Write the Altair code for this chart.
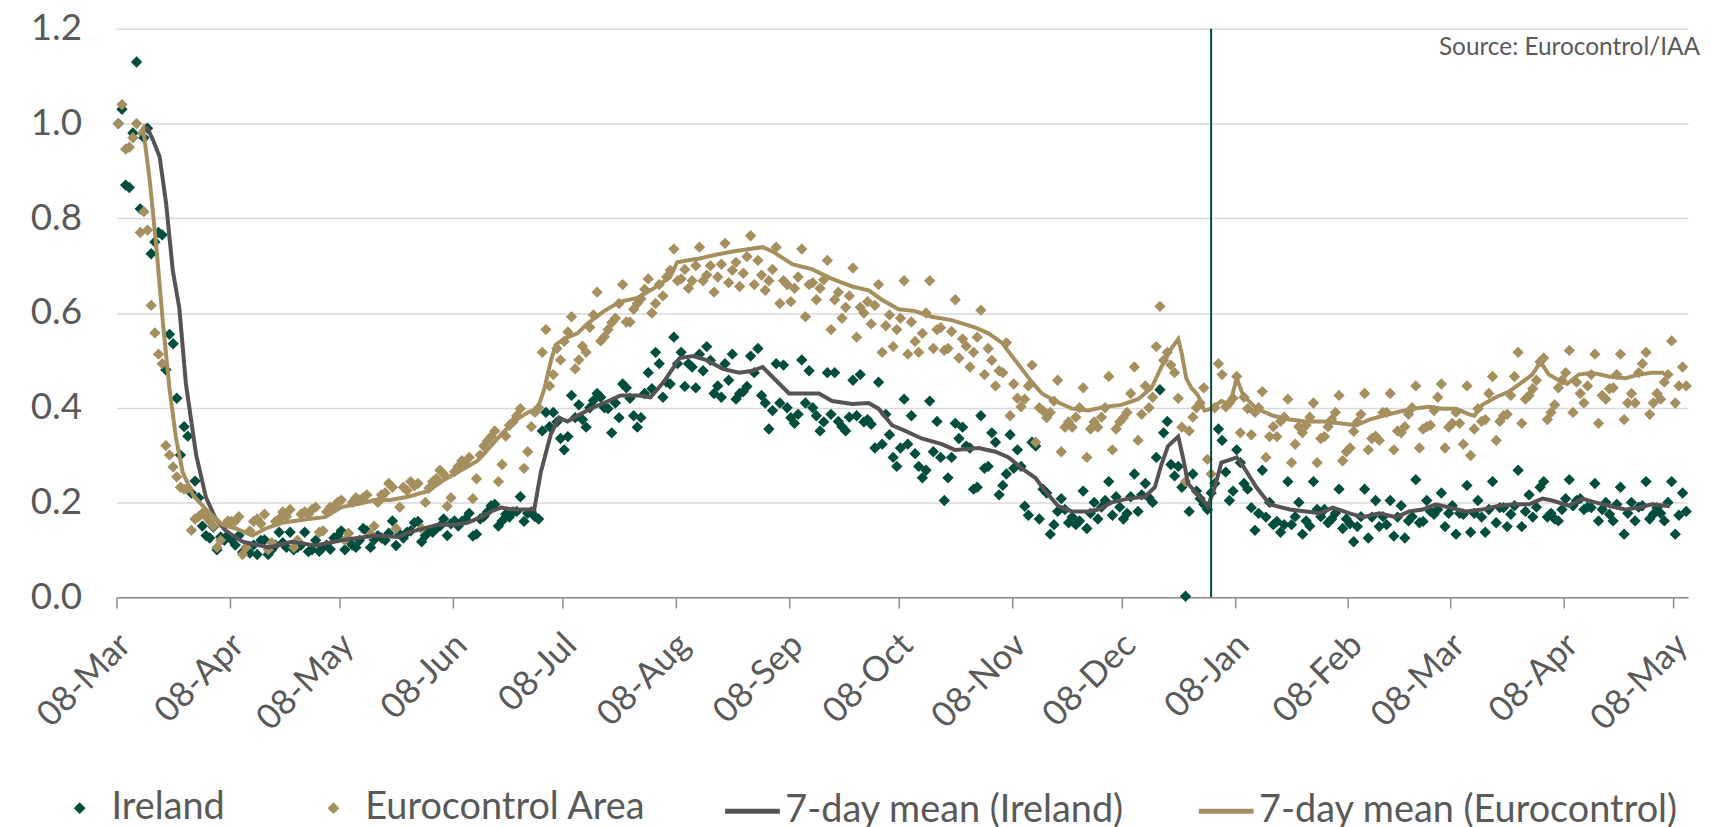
import altair as alt
import pandas as pd

# ---------------- data ----------------
START = "2020-03-08"
END = "2021-05-12"

# daily values, one row per week (Sun..Sat), from 08-Mar-2020
ireland = [
    1.00, 1.03, 0.87, 0.865, 0.98, 1.13, 0.82,
    0.97, 0.99, 0.725, 0.75, 0.77, 0.765, 0.48,
    0.555, 0.535, 0.42, 0.30, 0.36, 0.34, 0.22,
    0.245, 0.21, 0.15, 0.13, 0.125, 0.148, 0.10,
    0.127, 0.12, 0.131, 0.121, 0.11, 0.13, 0.095,
    0.105, 0.093, 0.11, 0.09, 0.12, 0.121, 0.09,
    0.10, 0.11, 0.137, 0.115, 0.105, 0.137, 0.10,
    0.105, 0.11, 0.137, 0.096, 0.10, 0.12, 0.097,
    0.105, 0.11, 0.101, 0.125, 0.129, 0.14, 0.10,
    0.121, 0.11, 0.105, 0.12, 0.145, 0.14, 0.105,
    0.121, 0.13, 0.125, 0.12, 0.135, 0.161, 0.109,
    0.133, 0.125, 0.137, 0.14, 0.157, 0.16, 0.117,
    0.13, 0.14, 0.137, 0.145, 0.15, 0.165, 0.13,
    0.155, 0.161, 0.15, 0.16, 0.165, 0.177, 0.129,
    0.133, 0.165, 0.17, 0.18, 0.193, 0.196, 0.15,
    0.161, 0.175, 0.169, 0.18, 0.181, 0.212, 0.16,
    0.177, 0.18, 0.17, 0.165, 0.351, 0.39, 0.36,
    0.39, 0.37, 0.335, 0.311, 0.339, 0.426, 0.379,
    0.406, 0.375, 0.359, 0.40, 0.415, 0.43, 0.422,
    0.40, 0.398, 0.347, 0.41, 0.379, 0.45, 0.442,
    0.42, 0.383, 0.359, 0.379, 0.43, 0.474, 0.44,
    0.517, 0.493, 0.422, 0.454, 0.45, 0.549, 0.493,
    0.517, 0.445, 0.493, 0.486, 0.442, 0.513, 0.478,
    0.529, 0.50, 0.43, 0.446, 0.422, 0.493, 0.458,
    0.513, 0.418, 0.43, 0.434, 0.445, 0.509, 0.474,
    0.525, 0.426, 0.41, 0.355, 0.394, 0.493, 0.41,
    0.49, 0.40, 0.379, 0.367, 0.386, 0.501, 0.41,
    0.478, 0.40, 0.383, 0.351, 0.37, 0.474, 0.386,
    0.474, 0.371, 0.36, 0.351, 0.38, 0.458, 0.383,
    0.47, 0.37, 0.375, 0.365, 0.315, 0.454, 0.323,
    0.386, 0.343, 0.295, 0.276, 0.315, 0.418, 0.323,
    0.383, 0.303, 0.276, 0.252, 0.268, 0.414, 0.307,
    0.371, 0.295, 0.204, 0.252, 0.295, 0.367, 0.335,
    0.359, 0.319, 0.315, 0.228, 0.232, 0.383, 0.272,
    0.276, 0.347, 0.327, 0.216, 0.236, 0.26, 0.343,
    0.272, 0.311, 0.276, 0.192, 0.173, 0.327, 0.319,
    0.165, 0.228, 0.22, 0.133, 0.153, 0.181, 0.208,
    0.185, 0.157, 0.169, 0.153, 0.161, 0.224, 0.145,
    0.177, 0.20, 0.165, 0.19, 0.204, 0.244, 0.173,
    0.212, 0.19, 0.165, 0.177, 0.212, 0.26, 0.181,
    0.216, 0.24, 0.21, 0.20, 0.295, 0.438, 0.347,
    0.371, 0.28, 0.256, 0.276, 0.232, 0.002, 0.181,
    0.26, 0.224, 0.208, 0.196, 0.185, 0.22, 0.24,
    0.355, 0.331, 0.264, 0.204, 0.224, 0.311, 0.284,
    0.24, 0.228, 0.189, 0.141, 0.177, 0.268, 0.169,
    0.20, 0.153, 0.16, 0.137, 0.153, 0.244, 0.153,
    0.17, 0.20, 0.133, 0.161, 0.15, 0.244, 0.185,
    0.17, 0.185, 0.157, 0.165, 0.177, 0.228, 0.145,
    0.165, 0.155, 0.117, 0.149, 0.17, 0.228, 0.125,
    0.169, 0.204, 0.149, 0.17, 0.153, 0.204, 0.129,
    0.169, 0.193, 0.125, 0.161, 0.17, 0.248, 0.157,
    0.16, 0.204, 0.181, 0.175, 0.185, 0.22, 0.149,
    0.177, 0.193, 0.133, 0.177, 0.175, 0.236, 0.137,
    0.177, 0.204, 0.169, 0.137, 0.185, 0.244, 0.157,
    0.189, 0.189, 0.149, 0.175, 0.193, 0.268, 0.149,
    0.181, 0.216, 0.169, 0.19, 0.232, 0.244, 0.169,
    0.177, 0.165, 0.161, 0.185, 0.208, 0.248, 0.193,
    0.204, 0.208, 0.185, 0.19, 0.189, 0.24, 0.161,
    0.185, 0.20, 0.175, 0.161, 0.196, 0.232, 0.133,
    0.177, 0.20, 0.161, 0.19, 0.193, 0.244, 0.165,
    0.175, 0.189, 0.177, 0.161, 0.20, 0.244, 0.133,
    0.173, 0.22, 0.181,
]

eurocontrol = [
    1.00, 1.04, 0.946, 0.95, 0.97, 1.00, 0.77,
    0.814, 0.775, 0.616, 0.558, 0.513, 0.493, 0.32,
    0.30, 0.275, 0.254, 0.232, 0.228, 0.23, 0.141,
    0.165, 0.17, 0.177, 0.17, 0.161, 0.15, 0.105,
    0.12, 0.15, 0.161, 0.16, 0.161, 0.17, 0.09,
    0.105, 0.14, 0.16, 0.165, 0.155, 0.175, 0.10,
    0.115, 0.16, 0.165, 0.18, 0.17, 0.185, 0.105,
    0.12, 0.175, 0.18, 0.175, 0.185, 0.19, 0.137,
    0.14, 0.18, 0.19, 0.19, 0.20, 0.205, 0.12,
    0.135, 0.20, 0.21, 0.205, 0.21, 0.216, 0.133,
    0.15, 0.20, 0.216, 0.22, 0.24, 0.232, 0.145,
    0.19, 0.232, 0.225, 0.244, 0.235, 0.24, 0.145,
    0.20, 0.23, 0.244, 0.25, 0.268, 0.26, 0.192,
    0.21, 0.265, 0.276, 0.288, 0.28, 0.295, 0.208,
    0.25, 0.30, 0.319, 0.33, 0.339, 0.351, 0.244,
    0.28, 0.34, 0.363, 0.37, 0.383, 0.398, 0.272,
    0.307, 0.36, 0.39, 0.40, 0.517, 0.565, 0.446,
    0.47, 0.525, 0.501, 0.54, 0.56, 0.592, 0.482,
    0.501, 0.53, 0.517, 0.57, 0.596, 0.644, 0.541,
    0.55, 0.565, 0.58, 0.589, 0.62, 0.66, 0.581,
    0.581, 0.608, 0.62, 0.63, 0.65, 0.672, 0.60,
    0.62, 0.66, 0.636, 0.676, 0.69, 0.735, 0.668,
    0.672, 0.692, 0.652, 0.668, 0.70, 0.739, 0.668,
    0.68, 0.70, 0.644, 0.676, 0.703, 0.747, 0.664,
    0.69, 0.707, 0.656, 0.684, 0.719, 0.763, 0.66,
    0.711, 0.68, 0.648, 0.668, 0.692, 0.739, 0.62,
    0.668, 0.66, 0.624, 0.652, 0.676, 0.735, 0.592,
    0.66, 0.664, 0.628, 0.652, 0.67, 0.711, 0.565,
    0.628, 0.644, 0.589, 0.612, 0.636, 0.695, 0.549,
    0.612, 0.60, 0.624, 0.577, 0.616, 0.66, 0.517,
    0.573, 0.596, 0.529, 0.565, 0.589, 0.668, 0.513,
    0.581, 0.54, 0.517, 0.557, 0.60, 0.668, 0.525,
    0.565, 0.569, 0.521, 0.525, 0.561, 0.628, 0.505,
    0.545, 0.53, 0.486, 0.517, 0.549, 0.606, 0.47,
    0.525, 0.50, 0.446, 0.478, 0.474, 0.537, 0.383,
    0.45, 0.42, 0.402, 0.418, 0.446, 0.49, 0.327,
    0.40, 0.394, 0.379, 0.39, 0.414, 0.458, 0.307,
    0.359, 0.37, 0.359, 0.38, 0.40, 0.442, 0.295,
    0.355, 0.37, 0.359, 0.38, 0.40, 0.466, 0.311,
    0.355, 0.37, 0.379, 0.39, 0.43, 0.486, 0.331,
    0.386, 0.446, 0.40, 0.422, 0.529, 0.614, 0.50,
    0.517, 0.49, 0.474, 0.42, 0.359, 0.244, 0.351,
    0.38, 0.40, 0.41, 0.442, 0.291, 0.26, 0.40,
    0.493, 0.47, 0.402, 0.41, 0.42, 0.466, 0.347,
    0.422, 0.398, 0.343, 0.39, 0.40, 0.434, 0.295,
    0.339, 0.36, 0.339, 0.371, 0.38, 0.418, 0.284,
    0.323, 0.36, 0.347, 0.363, 0.38, 0.41, 0.284,
    0.335, 0.339, 0.36, 0.375, 0.39, 0.426, 0.288,
    0.307, 0.315, 0.35, 0.37, 0.386, 0.43, 0.311,
    0.335, 0.34, 0.331, 0.39, 0.39, 0.43, 0.311,
    0.351, 0.347, 0.36, 0.386, 0.40, 0.446, 0.315,
    0.355, 0.36, 0.363, 0.394, 0.422, 0.45, 0.315,
    0.359, 0.367, 0.39, 0.367, 0.323, 0.446, 0.299,
    0.355, 0.398, 0.371, 0.375, 0.43, 0.466, 0.331,
    0.371, 0.383, 0.386, 0.426, 0.466, 0.517, 0.367,
    0.418, 0.426, 0.44, 0.458, 0.497, 0.505, 0.375,
    0.39, 0.406, 0.442, 0.458, 0.474, 0.521, 0.39,
    0.454, 0.43, 0.41, 0.446, 0.47, 0.513, 0.367,
    0.426, 0.418, 0.44, 0.442, 0.47, 0.513, 0.375,
    0.41, 0.43, 0.41, 0.474, 0.493, 0.517, 0.386,
    0.41, 0.43, 0.418, 0.454, 0.47, 0.541, 0.41,
    0.446, 0.486, 0.446,
]

# 7-day means, read as (days after 08-Mar-2020, value) knots
ire_ma_day = [7, 8.5, 10, 11.8, 13.6, 15.4, 17.2, 19, 21.8, 24.5, 27.2, 29.9, 34.5, 41.7, 48,
              54.4, 61.6, 70.7, 77, 80, 88, 92.5, 96, 99.7, 102.5, 105.2, 108.8, 114.3, 116.1,
              118.8, 121.1, 123.4, 126.1, 129.7, 133.4, 137.9, 142.5, 146.1, 149.7, 152.5, 154.1,
              157.7, 161.3, 165.9, 170.4, 174, 176.8, 180.4, 184, 192.2, 195.8, 201.3, 205.8,
              208.5, 212.2, 215.8, 220.3, 225.8, 229.4, 235.9, 240.5, 244.1, 247.7, 251.4, 254.1,
              257.7, 261.4, 265.9, 268.6, 272.3, 276.8, 281.4, 284.1, 285.9, 287.7, 290.5, 291.8,
              293.2, 295.9, 298.6, 300.5, 302.3, 305, 306.5, 308.3, 311.9, 315.5, 321, 325.5,
              329.2, 332.8, 337.4, 341, 345.5, 350.1, 353.7, 357.4, 361, 365.5, 369.1, 373.7,
              378.3, 382.8, 386.5, 390.1, 392.8, 397.5, 401, 404.6, 408.3, 412.8, 416.5, 420.1, 425]
ire_ma = [0.99, 0.99, 0.965, 0.93, 0.83, 0.69, 0.61, 0.45, 0.30, 0.21, 0.165, 0.14, 0.117, 0.105, 0.117,
          0.109, 0.12, 0.13, 0.127, 0.137, 0.153, 0.153, 0.157, 0.169, 0.181, 0.189, 0.185, 0.185, 0.264,
          0.343, 0.379, 0.371, 0.383, 0.398, 0.41, 0.426, 0.426, 0.422, 0.454, 0.486, 0.505,
          0.509, 0.501, 0.482, 0.474, 0.478, 0.486, 0.458, 0.43, 0.43, 0.414, 0.408, 0.41,
          0.398, 0.363, 0.351, 0.335, 0.323, 0.311, 0.315, 0.307, 0.295, 0.272, 0.252, 0.224,
          0.192, 0.181, 0.181, 0.185, 0.20, 0.208, 0.212, 0.232, 0.28, 0.319, 0.339, 0.295,
          0.24, 0.216, 0.192, 0.232, 0.284, 0.291, 0.295, 0.276, 0.232, 0.196, 0.185, 0.181,
          0.177, 0.189, 0.177, 0.169, 0.177, 0.169, 0.181, 0.185, 0.196, 0.188, 0.181, 0.185,
          0.193, 0.196, 0.196, 0.208, 0.204, 0.193, 0.208, 0.20, 0.193, 0.185, 0.189, 0.196, 0.192]

eu_ma_day = [6, 7.3, 9.1, 10.9, 12.7, 14.5, 16.3, 18.1, 20.9, 24.5, 29, 32.6, 37.2, 40.8, 45.3, 52.6,
             57.1, 61.6, 67, 70.7, 75, 79.7, 85.2, 89.7, 94.3, 98.8, 101.5, 105.2, 108.8, 112.5,
             115.2, 117, 118.9, 120.2, 122.5, 126.1, 128.8, 133.4, 137.9, 142.5, 147, 151.5, 153.4,
             156, 159.5, 164, 168.6, 173.1, 176.8, 179.5, 184.9, 190.4, 195.8, 201.3, 205.8, 209.4,
             214, 218.5, 223, 228.5, 235, 238.6, 242.3, 245, 247.7, 250.5, 253.2, 256.8, 261.4,
             265.9, 270.5, 275, 279.5, 283.2, 285.9, 288.6, 290.5, 291.4, 292.7, 294.1, 295.9,
             297.7, 299.5, 302.3, 304.6, 306.5, 308.3, 311.9, 316.5, 321, 325.5, 330.1, 334.6,
             339.2, 342.8, 346.5, 350.1, 354.6, 359.2, 362.8, 366.5, 370.1, 371.5, 373.7, 377.4,
             381, 384.6, 387.4, 389.6, 391.9, 394.6, 396.9, 400.1, 403.7, 408.3, 412.8, 416.5,
             420.1, 423.5]
eu_ma = [0.975, 0.99, 0.88, 0.74, 0.58, 0.44, 0.335, 0.264, 0.216, 0.185, 0.153, 0.145, 0.13, 0.145, 0.157, 0.165,
         0.169, 0.19, 0.198, 0.205, 0.205, 0.212, 0.224, 0.248, 0.268, 0.288, 0.311, 0.343, 0.371, 0.39,
         0.398, 0.438, 0.50, 0.533, 0.545, 0.557, 0.577, 0.604, 0.624, 0.632, 0.652, 0.676, 0.707,
         0.711, 0.715, 0.723, 0.73, 0.735, 0.739, 0.73, 0.703, 0.692, 0.672, 0.656, 0.648, 0.628,
         0.608, 0.604, 0.592, 0.585, 0.569, 0.557, 0.537, 0.509, 0.482, 0.454, 0.43, 0.414, 0.398,
         0.394, 0.402, 0.406, 0.418, 0.442, 0.486, 0.525, 0.545, 0.517, 0.462, 0.442, 0.426,
         0.394, 0.398, 0.414, 0.406, 0.462, 0.426, 0.398, 0.383, 0.375, 0.371, 0.371, 0.367,
         0.363, 0.375, 0.383, 0.39, 0.398, 0.402, 0.398, 0.398, 0.386, 0.383, 0.406, 0.422,
         0.434, 0.454, 0.47, 0.497, 0.47, 0.458, 0.45, 0.47, 0.474, 0.466, 0.462, 0.47,
         0.474, 0.474]

tick_dates = ["2020-03-08", "2020-04-08", "2020-05-08", "2020-06-08", "2020-07-08", "2020-08-08",
              "2020-09-08", "2020-10-08", "2020-11-08", "2020-12-08", "2021-01-08", "2021-02-08",
              "2021-03-08", "2021-04-08", "2021-05-08"]
y_ticks = [0.0, 0.2, 0.4, 0.6, 0.8, 1.0, 1.2]
year_marker = ["2021-01-01T12:00:00"]
source_note = ["Source: Eurocontrol/IAA"]
point_series = ["Ireland", "Eurocontrol Area"]
line_series = ["7-day mean (Ireland)", "7-day mean (Eurocontrol)"]

# ---------------- styling ----------------
GREEN = "#004D3D"
TAN = "#A68F5F"
GREY_LINE = "#575355"
TEXT = "#595959"
AXIS = "#8C8C8C"
GRID = "#D9D9D9"
FONT = "Lato"

W, H = 1579, 571


def iso(ts):
    return pd.Timestamp(ts).strftime("%Y-%m-%dT%H:%M:%SZ")


def ms(ts):
    return int(pd.Timestamp(ts, tz="UTC").timestamp() * 1000)


start = pd.Timestamp(START)
days = pd.date_range(start, periods=len(ireland), freq="D") + pd.Timedelta(hours=12)
pts = pd.DataFrame({
    "date": [iso(t) for t in days] * 2,
    "value": ireland + eurocontrol,
    "series": [point_series[0]] * len(ireland) + [point_series[1]] * len(eurocontrol),
})
ire_line = pd.DataFrame({
    "date": [iso(start + pd.Timedelta(days=d)) for d in ire_ma_day],
    "value": ire_ma,
    "series": line_series[0],
})
eu_line = pd.DataFrame({
    "date": [iso(start + pd.Timedelta(days=d)) for d in eu_ma_day],
    "value": eu_ma,
    "series": line_series[1],
})
marker = pd.DataFrame({"date": [iso(d) for d in year_marker]})
note = pd.DataFrame({"note": source_note})

x_enc = alt.X(
    "date:T",
    title=None,
    scale=alt.Scale(type="utc", domain=[ms(START), ms(END)]),
    axis=alt.Axis(
        values=[ms(d) for d in tick_dates],
        format="%d-%b",
        labelAngle=315,
        labelAlign="right",
        labelBaseline="middle",
        labelPadding=31,
        labelOffset=8,
        labelFont=FONT,
        labelFontSize=35,
        labelColor=TEXT,
        labelOverlap=False,
        labelFlush=False,
        tickSize=11,
        tickColor=AXIS,
        tickWidth=1.5,
        domainColor=AXIS,
        domainWidth=1.5,
        grid=False,
    ),
)
y_enc = alt.Y(
    "value:Q",
    title=None,
    scale=alt.Scale(domain=[0, 1.2], nice=False),
    axis=alt.Axis(
        values=y_ticks,
        format=".1f",
        domain=False,
        ticks=False,
        tickSize=0,
        labelPadding=35,
        labelFont=FONT,
        labelFontSize=37,
        labelColor=TEXT,
        gridColor=GRID,
        gridWidth=1.5,
    ),
)

points = alt.Chart(pts).mark_point(
    shape="diamond", filled=True, size=130, opacity=1, strokeWidth=0
).encode(
    x=x_enc,
    y=y_enc,
    color=alt.Color(
        "series:N",
        scale=alt.Scale(domain=point_series, range=[GREEN, TAN]),
        legend=alt.Legend(
            title=None, orient="none", legendX=-56, legendY=764, direction="horizontal",
            symbolType="diamond", symbolSize=140, symbolStrokeWidth=0, symbolOpacity=1,
            labelFont=FONT, labelFontSize=38, labelColor=TEXT, labelOffset=13,
            labelLimit=800, columnPadding=90, padding=0,
        ),
    ),
)

line_color = alt.Color(
    "series:N",
    scale=alt.Scale(domain=line_series, range=[GREY_LINE, TAN]),
    legend=alt.Legend(
        title=None, orient="none", legendX=609, legendY=756, direction="horizontal",
        symbolType="stroke", symbolSize=3025, symbolStrokeWidth=5,
        labelFont=FONT, labelFontSize=38, labelColor=TEXT, labelOffset=3,
        labelLimit=800, columnPadding=64, padding=0,
    ),
)
grey_line = alt.Chart(ire_line).mark_line(strokeWidth=4).encode(x=x_enc, y=y_enc, color=line_color)
tan_line = alt.Chart(eu_line).mark_line(strokeWidth=4).encode(x=x_enc, y=y_enc, color=line_color)
lines = alt.layer(grey_line, tan_line)

rule = alt.Chart(marker).mark_rule(color=GREEN, strokeWidth=2).encode(x=x_enc)

source = alt.Chart(note).mark_text(
    align="right", baseline="middle", font=FONT, fontSize=24.5, color=TEXT
).encode(x=alt.value(W + 12), y=alt.value(19), text="note:N")

chart = alt.layer(points, lines, rule, source).resolve_scale(color="independent").properties(
    width=W,
    height=H,
    padding={"left": 109, "top": 19, "right": 15, "bottom": 229},
    autosize=alt.AutoSizeParams(type="none"),
    background="white",
).configure_view(strokeWidth=0)

chart.save("out.html", embed_options={"renderer": "svg", "actions": False})
